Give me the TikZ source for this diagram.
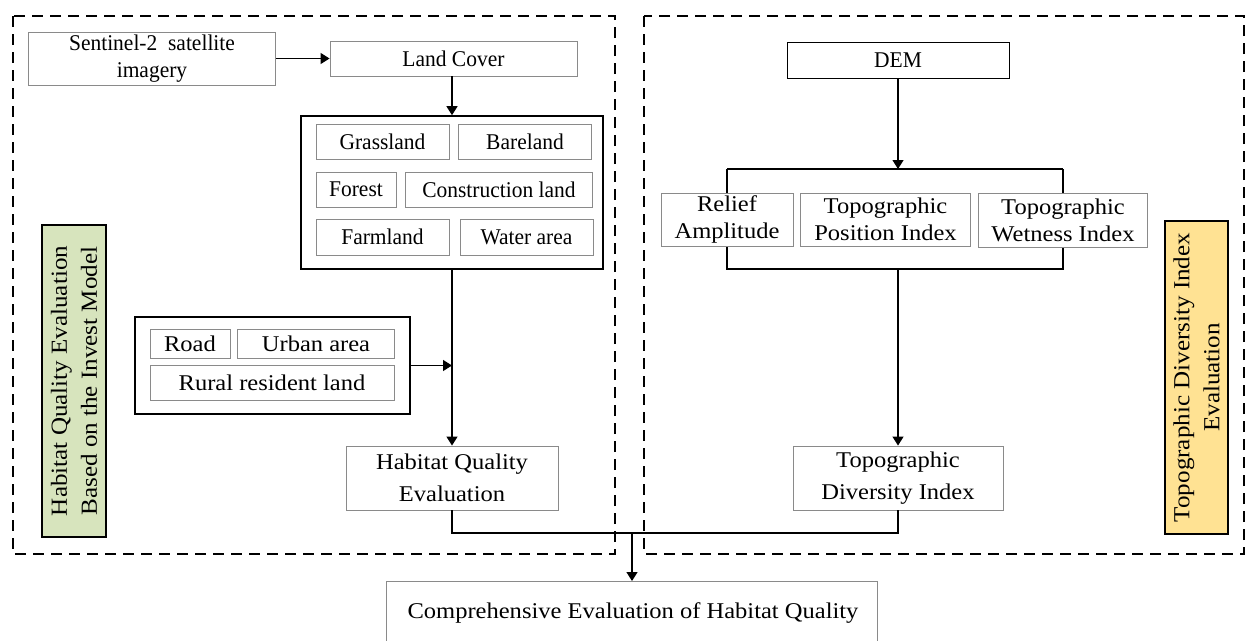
\documentclass[tikz,border=0pt]{standalone}
\usepackage{fontspec}
\newfontfamily\tnr{Liberation Serif}[FakeStretch=0.955]
\newfontfamily\pal{Liberation Serif}[FakeStretch=1.09]
\usetikzlibrary{arrows.meta}
\definecolor{greenfill}{HTML}{D7E4BD}
\definecolor{yellowfill}{HTML}{FFE293}
\definecolor{boxgray}{HTML}{8A8A8A}
\tikzset{
  gbox/.style={draw=boxgray, line width=0.9pt, fill=white, inner sep=0pt, align=center},
  bbox/.style={draw=black, line width=1pt, fill=white, inner sep=0pt, align=center},
  bigbox/.style={draw=black, line width=1.6pt, inner sep=0pt},
  tfont/.style={font=\tnr\fontsize{22.5}{27}\selectfont},
  pfont/.style={font=\pal\fontsize{22.5}{27}\selectfont},
  pfontw/.style={font=\pal\fontsize{22.5}{32}\selectfont},
  dashbox/.style={draw=black, line width=1.4pt, dash pattern=on 11pt off 7pt},
  conn/.style={draw=black, line width=1.3pt},
  arr/.style={conn, -{Triangle[length=9pt,width=11pt]}},
  sidelabel/.style={draw=black, line width=1.3pt, rotate=90, inner sep=0pt, align=center, font=\pal\fontsize{23}{30}\selectfont},
}
\begin{document}
\begin{tikzpicture}[x=1pt,y=-1pt]
\useasboundingbox (0,0) rectangle (1246,640);
% dashed panels
\draw[dashbox] (13,16) rectangle (615,554);
\draw[dashbox] (644,16) rectangle (1244,554);

% left panel
\node[gbox, tfont, minimum width=247pt, minimum height=53pt] (sent) at (152,58.5) {Sentinel-2\ \ satellite\\imagery};
\node[gbox, tfont, minimum width=247pt, minimum height=35pt] (lc) at (453.5,58.5) {Land Cover};
\node[bigbox, minimum width=302pt, minimum height=153pt] (lcg) at (452,192.5) {};
\node[gbox, tfont, minimum width=133pt, minimum height=35pt] (grass) at (382.5,141.5) {Grassland};
\node[gbox, tfont, minimum width=133.5pt, minimum height=35pt] (bare) at (525,141.5) {Bareland};
\node[gbox, tfont, minimum width=80pt, minimum height=35pt] (forest) at (356,189.5) {Forest};
\node[gbox, tfont, minimum width=187.5pt, minimum height=35pt] (constr) at (499,189.5) {Construction land};
\node[gbox, tfont, minimum width=133pt, minimum height=36pt] (farm) at (382.5,237) {Farmland};
\node[gbox, tfont, minimum width=133pt, minimum height=36pt] (water) at (526.5,237) {Water area};

\node[bigbox, minimum width=275pt, minimum height=97pt] (threat) at (272.5,365.5) {};
\node[gbox, pfont, minimum width=80pt, minimum height=29pt] (road) at (190,343.5) {Road};
\node[gbox, pfont, minimum width=156.5pt, minimum height=29pt] (urban) at (316,343.5) {Urban area};
\node[gbox, pfont, minimum width=244pt, minimum height=35pt] (rural) at (272,382.5) {Rural resident land};

\node[gbox, pfontw, minimum width=212pt, minimum height=64pt] (hq) at (452,478) {Habitat Quality\\Evaluation};

\node[sidelabel, fill=greenfill, minimum width=312pt, minimum height=64pt] (green) at (74,381) {Habitat Quality Evaluation\\Based on the Invest Model};

% right panel
\node[bbox, tfont, minimum width=222pt, minimum height=36pt] (dem) at (898,60) {DEM};
\coordinate (brtop) at (898,169);
\coordinate (brtl) at (727,169);
\coordinate (brtr) at (1063,169);
\coordinate (brbl) at (727,269);
\coordinate (brbr) at (1063,269);
\coordinate (brbot) at (898,269);
\draw[conn] (brtl) -- (brtr);
\draw[conn] (brtl) -- (brbl) -- (brbr) -- (brtr);
\node[gbox, pfont, minimum width=132pt, minimum height=53pt] (relief) at (727,219.5) {Relief\\Amplitude};
\node[gbox, pfont, minimum width=169.5pt, minimum height=53pt] (tpi) at (885.5,219.5) {Topographic\\Position Index};
\node[gbox, pfont, minimum width=168.5pt, minimum height=54pt] (twi) at (1063,220) {Topographic\\Wetness Index};
\node[gbox, pfontw, minimum width=210pt, minimum height=64pt] (tdi) at (898,478) {Topographic\\Diversity Index};

\node[sidelabel, fill=yellowfill, minimum width=313pt, minimum height=63pt] (yellow) at (1196.5,377.5) {Topographic Diversity Index\\Evaluation};

% bottom
\draw[draw=boxgray, line width=0.9pt] (386,645) -- (386,581) -- (877,581) -- (877,645);
\node[pfont, inner sep=0pt] (comp) at (633,613) {Comprehensive Evaluation of Habitat Quality};
\coordinate (comptop) at (632,581);

% connectors
\draw[arr] (sent.east) -- (lc.west);
\draw[arr] (lc.south -| lcg.north) -- (lcg.north);
\draw[arr] (lcg.south) -- (hq.north);
\coordinate (join) at (lcg.south |- threat.east);
\draw[arr] (threat.east) -- (join);
\draw[arr] (dem.south) -- (brtop);
\draw[arr] (brbot) -- (tdi.north);
\coordinate (hjoin) at (632,533);
\draw[conn] (hq.south) -- (hq.south |- hjoin) -- (tdi.south |- hjoin) -- (tdi.south);
\draw[arr] (hjoin) -- (comptop);
\end{tikzpicture}
\end{document}
